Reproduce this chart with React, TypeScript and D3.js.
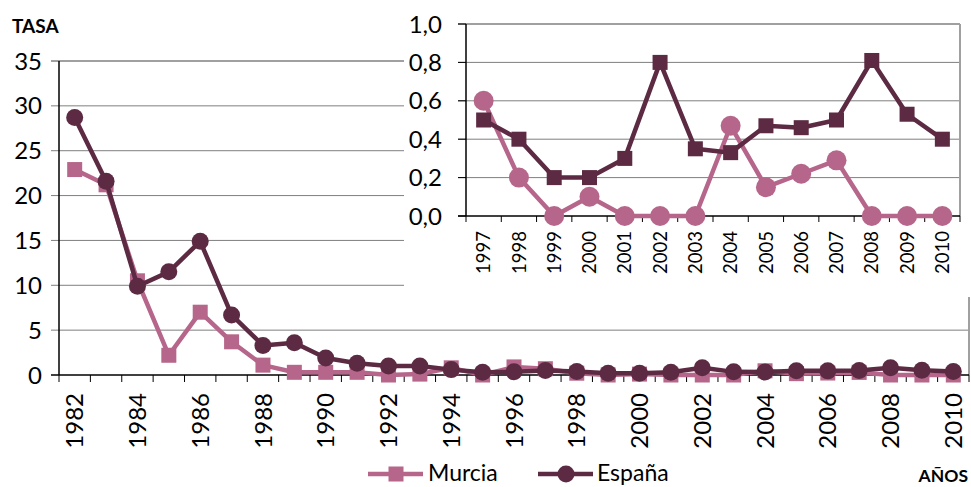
import React from "react";
import * as d3 from "d3";

const years = [1982, 1983, 1984, 1985, 1986, 1987, 1988, 1989, 1990, 1991, 1992, 1993, 1994, 1995, 1996, 1997, 1998, 1999, 2000, 2001, 2002, 2003, 2004, 2005, 2006, 2007, 2008, 2009, 2010];
const murcia = [22.9, 21.2, 10.5, 2.2, 7.0, 3.7, 1.1, 0.3, 0.3, 0.3, 0.0, 0.1, 0.8, 0.0, 0.9, 0.7, 0.2, 0.0, 0.1, 0.0, 0.0, 0.0, 0.47, 0.15, 0.22, 0.29, 0.0, 0.0, 0.0];
const espana = [28.7, 21.6, 9.9, 11.5, 14.9, 6.7, 3.3, 3.6, 1.9, 1.3, 1.0, 1.0, 0.6, 0.3, 0.35, 0.5, 0.4, 0.2, 0.2, 0.3, 0.8, 0.35, 0.33, 0.47, 0.46, 0.5, 0.81, 0.53, 0.4];
const mainTicks = [0, 5, 10, 15, 20, 25, 30, 35];

const insetYears = [1997, 1998, 1999, 2000, 2001, 2002, 2003, 2004, 2005, 2006, 2007, 2008, 2009, 2010];
const insetMurcia = [0.6, 0.2, 0.0, 0.1, 0.0, 0.0, 0.0, 0.47, 0.15, 0.22, 0.29, 0.0, 0.0, 0.0];
const insetEspana = [0.5, 0.4, 0.2, 0.2, 0.3, 0.8, 0.35, 0.33, 0.47, 0.46, 0.5, 0.81, 0.53, 0.4];
const insetTicks = [0, 0.2, 0.4, 0.6, 0.8, 1.0];

const PINK = "#b6668a";
const DARK = "#5c2a42";
const FONT = "Lato, 'Open Sans', sans-serif";

export default function App() {
  // main chart
  const x = d3.scaleBand<number>().domain(years).range([59, 969]);
  const y = d3.scaleLinear().domain([0, 35]).range([375, 61]);
  const cx = (yr: number) => (x(yr) as number) + x.bandwidth() / 2;
  const lineM = d3.line<number>().x((_, i) => cx(years[i])).y((d) => y(d));

  // inset
  const xi = d3.scaleBand<number>().domain(insetYears).range([466, 960]);
  const yi = d3.scaleLinear().domain([0, 1]).range([216, 24]);
  const cxi = (yr: number) => (xi(yr) as number) + xi.bandwidth() / 2;
  const lineI = d3.line<number>().x((_, i) => cxi(insetYears[i])).y((d) => yi(d));
  const fmt = (v: number) => d3.format(".1f")(v).replace(".", ",");

  const mainBounds = years.map((yr) => x(yr) as number).concat([969]);
  const insetBounds = insetYears.map((yr) => xi(yr) as number).concat([960]);

  return (
    <svg width={971} height={487} style={{ position: "absolute", left: 0, top: 0, background: "#fff" }} fontFamily={FONT}>
      {/* main gridlines */}
      {mainTicks.filter((t) => t > 0 && t < 35).map((t) => (
        <line key={"g" + t} x1={51} x2={969} y1={y(t)} y2={y(t)} stroke="#7f7f7f" strokeWidth={1} />
      ))}
      <line x1={51} x2={969} y1={y(35)} y2={y(35)} stroke="#a0a0a0" strokeWidth={2} />
      <line x1={969} x2={969} y1={y(35)} y2={y(0)} stroke="#a0a0a0" strokeWidth={2} />
      {/* main y axis */}
      <line x1={59} x2={59} y1={y(35)} y2={y(0)} stroke="#000" strokeWidth={1.5} />
      {mainTicks.map((t) => (
        <text key={"yl" + t} x={42} y={y(t)} dy="0.36em" textAnchor="end" fontSize={24} fill="#000">{t}</text>
      ))}
      {/* main x axis */}
      <line x1={51} x2={969} y1={y(0)} y2={y(0)} stroke="#000" strokeWidth={1.5} />
      {mainBounds.map((b, i) => (
        <line key={"xt" + i} x1={b} x2={b} y1={y(0)} y2={y(0) + 7} stroke="#000" strokeWidth={1} />
      ))}
      {years.filter((yr, i) => i % 2 === 0).map((yr) => (
        <text key={"xl" + yr} transform={`translate(${cx(yr)},${y(0) + 18}) rotate(-90)`} dy="0.36em" textAnchor="end" fontSize={24} fill="#000">{yr}</text>
      ))}
      {/* main series */}
      <path d={lineM(murcia) as string} fill="none" stroke={PINK} strokeWidth={4.5} strokeLinejoin="round" />
      {murcia.map((v, i) => (
        <rect key={"ms" + i} x={cx(years[i]) - 7.5} y={y(v) - 7.5} width={15} height={15} fill={PINK} />
      ))}
      <path d={lineM(espana) as string} fill="none" stroke={DARK} strokeWidth={4.5} strokeLinejoin="round" />
      {espana.map((v, i) => (
        <circle key={"ec" + i} cx={cx(years[i])} cy={y(v)} r={8.5} fill={DARK} />
      ))}

      {/* inset background */}
      <rect x={404} y={0} width={567} height={297} fill="#fff" />
      {insetTicks.filter((t) => t > 0 && t < 1).map((t) => (
        <line key={"ig" + t} x1={458} x2={960} y1={yi(t)} y2={yi(t)} stroke="#7f7f7f" strokeWidth={1} />
      ))}
      <line x1={458} x2={960} y1={yi(1)} y2={yi(1)} stroke="#a0a0a0" strokeWidth={2} />
      <line x1={960} x2={960} y1={yi(1)} y2={yi(0)} stroke="#a0a0a0" strokeWidth={2} />
      <line x1={466} x2={466} y1={yi(1)} y2={yi(0)} stroke="#000" strokeWidth={1.5} />
      {insetTicks.map((t) => (
        <g key={"it" + t}>
          <line x1={458} x2={466} y1={yi(t)} y2={yi(t)} stroke="#000" strokeWidth={1} />
          <text x={442} y={yi(t)} dy="0.36em" textAnchor="end" fontSize={24} fill="#000">{fmt(t)}</text>
        </g>
      ))}
      <line x1={458} x2={960} y1={yi(0)} y2={yi(0)} stroke="#000" strokeWidth={1.5} />
      {insetBounds.map((b, i) => (
        <line key={"ixt" + i} x1={b} x2={b} y1={yi(0)} y2={yi(0) + 6} stroke="#000" strokeWidth={1} />
      ))}
      {insetYears.map((yr) => (
        <text key={"ixl" + yr} transform={`translate(${cxi(yr)},${yi(0) + 15}) rotate(-90)`} dy="0.36em" textAnchor="end" fontSize={18.5} fill="#000">{yr}</text>
      ))}
      <path d={lineI(insetMurcia) as string} fill="none" stroke={PINK} strokeWidth={4.5} strokeLinejoin="round" />
      {insetMurcia.map((v, i) => (
        <circle key={"imc" + i} cx={cxi(insetYears[i])} cy={yi(v)} r={10} fill={PINK} />
      ))}
      <path d={lineI(insetEspana) as string} fill="none" stroke={DARK} strokeWidth={4.5} strokeLinejoin="round" />
      {insetEspana.map((v, i) => (
        <rect key={"ies" + i} x={cxi(insetYears[i]) - 7.5} y={yi(v) - 7.5} width={15} height={15} fill={DARK} />
      ))}

      {/* titles */}
      <text x={12} y={33} fontSize={19} fontWeight="bold" fill="#000">TASA</text>
      <text x={968} y={482} fontSize={17.5} fontWeight="bold" textAnchor="end" fill="#000">AÑOS</text>

      {/* legend */}
      <line x1={368} x2={423} y1={474} y2={474} stroke={PINK} strokeWidth={4.5} />
      <rect x={388.5} y={466.5} width={15} height={15} fill={PINK} />
      <text x={428} y={473} dy="0.35em" fontSize={23} fill="#000">Murcia</text>
      <line x1={538} x2={593} y1={474} y2={474} stroke={DARK} strokeWidth={4.5} />
      <circle cx={566} cy={474} r={8.5} fill={DARK} />
      <text x={597} y={473} dy="0.35em" fontSize={23} fill="#000">España</text>
    </svg>
  );
}
